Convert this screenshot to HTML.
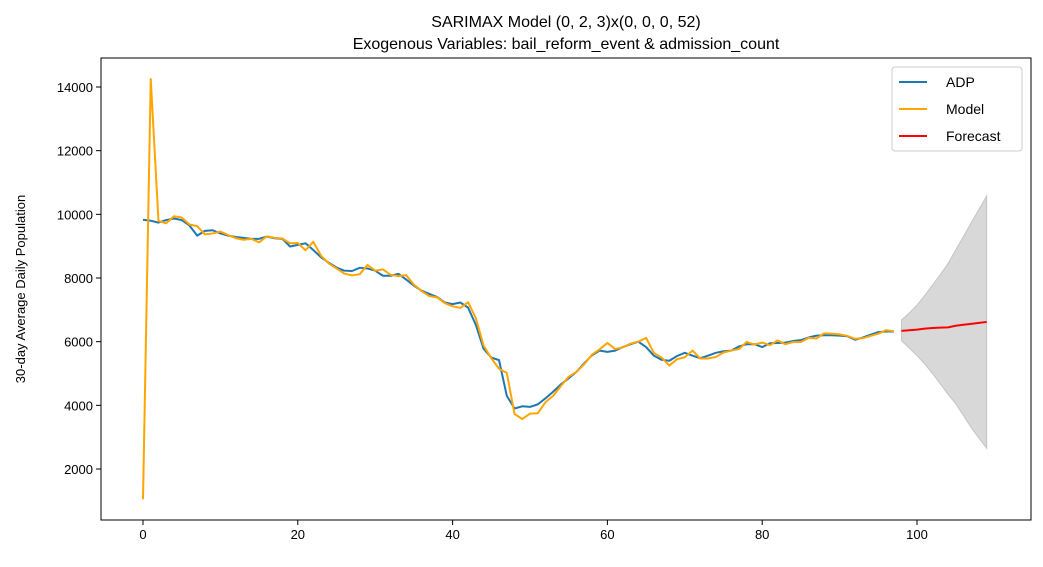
<!DOCTYPE html>
<html><head><meta charset="utf-8"><style>
body{margin:0;background:#fff;}
svg text{font-family:"Liberation Sans","DejaVu Sans",sans-serif;}
</style></head><body>
<svg id="chart" width="1043" height="562" xmlns="http://www.w3.org/2000/svg">
<rect width="1043" height="562" fill="#fff"/>
<g id="plot"></g>
</svg>
<script>
const adp=[9830,9800,9740,9820,9870,9820,9650,9330,9480,9500,9400,9330,9290,9260,9230,9230,9300,9250,9230,8990,9040,9090,8880,8650,8480,8330,8230,8220,8320,8300,8230,8070,8070,8130,7950,7760,7600,7500,7400,7230,7180,7230,7070,6530,5780,5500,5420,4300,3900,3970,3950,4030,4220,4430,4660,4850,5050,5320,5570,5720,5680,5720,5830,5920,6000,5830,5560,5430,5400,5550,5650,5560,5480,5560,5650,5700,5720,5850,5920,5920,5830,5950,5960,5970,6020,6050,6130,6190,6200,6200,6190,6170,6060,6130,6220,6300,6320,6320];
const model=[1050,14250,9790,9720,9940,9900,9680,9630,9370,9400,9460,9350,9250,9200,9230,9120,9310,9260,9240,9090,9100,8870,9140,8700,8460,8300,8140,8080,8120,8410,8230,8270,8100,8060,8090,7790,7590,7430,7390,7210,7110,7060,7240,6740,5880,5480,5150,5020,3730,3570,3740,3750,4100,4300,4610,4900,5050,5290,5590,5760,5960,5770,5820,5940,6000,6120,5650,5500,5250,5450,5510,5720,5470,5470,5520,5660,5720,5770,5990,5910,5970,5890,6040,5920,5990,5990,6120,6100,6260,6250,6230,6180,6090,6110,6180,6250,6360,6330];
const forecast=[6340,6360,6380,6410,6430,6440,6450,6500,6530,6560,6590,6620];
const upper=[6680,6900,7150,7450,7780,8100,8450,8880,9300,9730,10150,10580];
const lower=[6030,5800,5560,5300,5000,4680,4350,4050,3680,3300,2970,2650];
const xTicks=[0,20,40,60,80,100];
const yTicks=[2000,4000,6000,8000,10000,12000,14000];
const fStart=98;

const L=101,R=1031,T=58,B=520;
const X=v=>143+v*7.74;
const Y=v=>469-(v-2000)*0.0318333;
const NS="http://www.w3.org/2000/svg";
const g=document.getElementById('plot');
function el(tag,attrs,parent){const e=document.createElementNS(NS,tag);for(const k in attrs)e.setAttribute(k,attrs[k]);(parent||g).appendChild(e);return e;}
function pts(arr,off){return arr.map((v,i)=>X(i+off).toFixed(2)+','+Y(v).toFixed(2)).join(' ');}

// band
let bp=upper.map((v,i)=>X(i+fStart)+','+Y(v));
for(let i=lower.length-1;i>=0;i--)bp.push(X(i+fStart)+','+Y(lower[i]));
const band=el('polygon',{points:bp.join(' '),fill:'#d8d8d8',stroke:'#c4c4c4','stroke-width':1});



const l1=el('polyline',{points:pts(adp,0),fill:'none',stroke:'#1f77b4','stroke-width':2,'stroke-linejoin':'round'});


const l2=el('polyline',{points:pts(model,0),fill:'none',stroke:'#ffa500','stroke-width':2,'stroke-linejoin':'round'});


const l3=el('polyline',{points:pts(forecast,fStart),fill:'none',stroke:'#ff0000','stroke-width':2,'stroke-linejoin':'round'});



const frame=el('rect',{x:L,y:T,width:R-L,height:B-T,fill:'none',stroke:'#000','stroke-width':1});



xTicks.forEach(t=>{
  const tk=el('line',{x1:X(t),x2:X(t),y1:B,y2:B+5,stroke:'#000'});
  
  
  const tx=el('text',{x:X(t),y:B+19,'text-anchor':'middle','font-size':13});
  tx.textContent=t;
  
  
});
yTicks.forEach(t=>{
  const tk=el('line',{x1:L-5,x2:L,y1:Y(t),y2:Y(t),stroke:'#000'});
  
  
  const tx=el('text',{x:L-8,y:Y(t)+5,'text-anchor':'end','font-size':13});
  tx.textContent=t;
  
  
});
const yt=el('text',{x:0,y:0,transform:'translate(25,289) rotate(-90)','text-anchor':'middle','font-size':13});
yt.textContent='30-day Average Daily Population';


const t1=el('text',{x:566,y:27,'text-anchor':'middle','font-size':16});
t1.textContent='SARIMAX Model (0, 2, 3)x(0, 0, 0, 52)';


const t2=el('text',{x:566,y:49,'text-anchor':'middle','font-size':16});
t2.textContent='Exogenous Variables: bail_reform_event & admission_count';



// legend
const lg=el('g',{});


el('rect',{x:892,y:67,width:130,height:84,rx:3,fill:'#fff',stroke:'#ccc'},lg);
[['ADP','#1f77b4'],['Model','#ffa500'],['Forecast','#ff0000']].forEach((d,i)=>{
  const yy=82+i*27;
  const e=el('g',{},lg);
  
  
  el('line',{x1:899,x2:927,y1:yy,y2:yy,stroke:d[1],'stroke-width':2},e);
  const tx=el('text',{x:946,y:yy+5,'font-size':14},e);
  tx.textContent=d[0];
});
</script>
</body></html>
